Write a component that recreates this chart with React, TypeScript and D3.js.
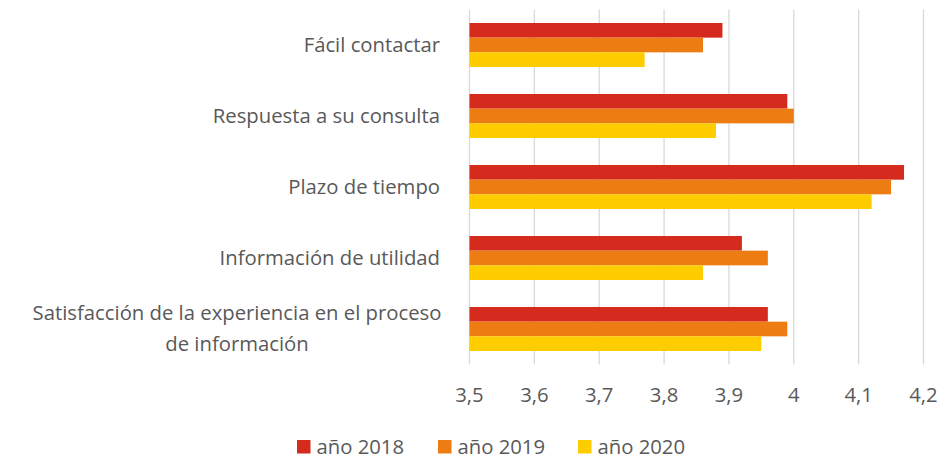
import React from "react";
import * as d3 from "d3";

const categories = [
  ["Fácil contactar"],
  ["Respuesta a su consulta"],
  ["Plazo de tiempo"],
  ["Información de utilidad"],
  ["Satisfacción de la experiencia en el proceso", "de información"]
];
const series = ["año 2018", "año 2019", "año 2020"];
const colors = ["#D52B1E", "#ED7D12", "#FFCC00"];
const values2018 = [3.89, 3.99, 4.17, 3.92, 3.96];
const values2019 = [3.86, 4.0, 4.15, 3.96, 3.99];
const values2020 = [3.77, 3.88, 4.12, 3.86, 3.95];
const ticks = [3.5, 3.6, 3.7, 3.8, 3.9, 4.0, 4.1, 4.2];

const W = 939,
  H = 458;
const font = "'Open Sans', sans-serif";
const textColor = "#595959";
const fs = 20.3;

export default function App() {
  const allValues = [values2018, values2019, values2020];

  // scales
  const top = 9.5,
    bottom = 364.5;
  const x = d3.scaleLinear().domain([3.5, 4.2]).range([469.5, 923.5]);
  const keys = categories.map((c) => c.join(" "));
  const y = d3.scaleBand().domain(keys).range([top, bottom]).paddingInner(0.38).paddingOuter(0.19);
  const ys = d3.scaleBand().domain(series).range([0, y.bandwidth()]);
  const fmt = (v: number) => d3.format(".1~f")(v).replace(".", ",");

  return (
    <svg
      width={W}
      height={H}
      style={{ position: "absolute", left: 0, top: 0, background: "#fff" }}
      fontFamily={font}
    >
      {/* gridlines */}
      {ticks.map((t) => (
        <line key={t} x1={x(t)} x2={x(t)} y1={top} y2={bottom} stroke="#d9d9d9" strokeWidth={1.3} />
      ))}

      {/* bars */}
      {keys.map((k, i) => (
        <g key={k} transform={`translate(0,${y(k)})`}>
          {series.map((s, j) => (
            <rect
              key={s}
              x={x(3.5)}
              y={ys(s)}
              width={x(allValues[j][i]) - x(3.5)}
              height={ys.bandwidth()}
              fill={colors[j]}
            />
          ))}
        </g>
      ))}

      {/* category labels */}
      {categories.map((lines, i) => {
        const cy = (y(keys[i]) as number) + y.bandwidth() / 2;
        const multi = lines.length > 1;
        return (
          <text key={i} fontSize={fs} fill={textColor}>
            {lines.map((l, li) => (
              <tspan
                key={li}
                x={multi ? 237 : 440}
                textAnchor={multi ? "middle" : "end"}
                y={multi ? cy - 16.5 + li * 31.7 : cy}
                dy="0.35em"
              >
                {l}
              </tspan>
            ))}
          </text>
        );
      })}

      {/* tick labels */}
      {ticks.map((t) => (
        <text key={t} x={x(t)} y={395} dy="0.35em" textAnchor="middle" fontSize={fs} fill={textColor}>
          {fmt(t)}
        </text>
      ))}

      {/* legend */}
      {series.map((s, j) => {
        const lx = [297, 438, 578][j];
        return (
          <g key={s} transform={`translate(${lx},446.5)`}>
            <rect x={0} y={-6.5} width={13.5} height={13.5} fill={colors[j]} />
            <text x={19.5} y={0} dy="0.35em" fontSize={fs} fill={textColor}>
              {s}
            </text>
          </g>
        );
      })}
    </svg>
  );
}
